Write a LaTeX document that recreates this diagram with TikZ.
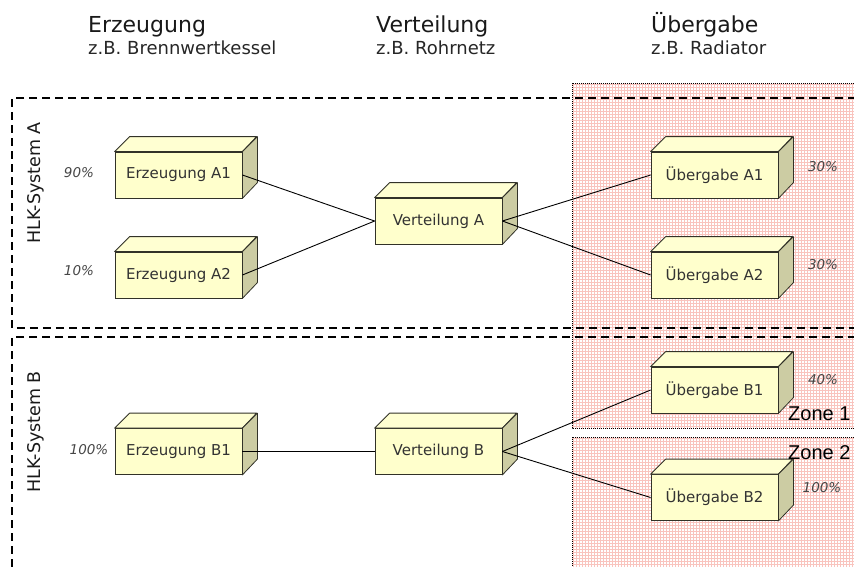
\documentclass[tikz,border=0pt]{standalone}
\usepackage{fontspec}
\setmainfont{DejaVu Sans}
\newfontfamily\zonefont{Liberation Sans}
\definecolor{boxfront}{RGB}{255,255,204}
\definecolor{boxtop}{RGB}{255,255,210}
\definecolor{boxside}{RGB}{204,204,163}
\definecolor{boxline}{RGB}{50,50,40}
\definecolor{gridpink}{RGB}{249,196,190}
\definecolor{pcgray}{RGB}{70,70,70}
\begin{document}
\begin{tikzpicture}[x=1pt,y=-1pt,
  front/.style={draw=boxline, line width=0.8pt, fill=boxfront,
    minimum width=127pt, minimum height=46pt, inner sep=0pt,
    font=\fontsize{15}{18}\selectfont, text=black!80},
  topface/.style={draw=boxline, line width=0.8pt, fill=boxtop, line join=round},
  sideface/.style={draw=boxline, line width=0.8pt, fill=boxside, line join=round},
  link/.style={draw=black, line width=0.9pt},
  systemframe/.style={draw=black, line width=1.4pt, dash pattern=on 8pt off 5pt},
  zoneframe/.style={draw=black, line width=1pt, dash pattern=on 1pt off 1pt},
  pct/.style={font=\fontsize{13.5}{16}\selectfont\itshape, text=pcgray},
  headtitle/.style={anchor=base west, font=\fontsize{22}{26}\selectfont, text=black!90, inner sep=0pt},
  headsub/.style={anchor=base west, font=\fontsize{18}{21}\selectfont, text=black!85, inner sep=0pt},
  syslabel/.style={rotate=90, font=\fontsize{17.5}{20}\selectfont, text=black!90},
  zonelabel/.style={anchor=base west, font=\zonefont\fontsize{20}{24}\selectfont, inner sep=0pt}
]
\useasboundingbox (0,0) rectangle (854,566);

% hatched delivery zones
\begin{scope}
  \clip (572,83) rectangle (854,428);
  \fill[white] (572,83) rectangle (854,428);
  \draw[gridpink, line width=0.45pt, step=3pt] (570,80) grid (856,430);
\end{scope}
\begin{scope}
  \clip (572,437) rectangle (854,566);
  \fill[white] (572,437) rectangle (854,566);
  \draw[gridpink, line width=0.45pt, step=3pt] (570,435) grid (856,568);
\end{scope}
\draw[zoneframe] (856,83) -- (572,83) -- (572,428) -- (856,428);
\draw[zoneframe] (856,437) -- (572,437) -- (572,570);

% system frames
\draw[systemframe] (856,98) -- (12,98) -- (12,328) -- (856,328);
\draw[systemframe] (856,337) -- (12,337) -- (12,570);

% column headings
\node[headtitle] (hE) at (88,32) {Erzeugung};
\node[headsub] (hEs) at (88,54) {z.B. Brennwertkessel};
\node[headtitle] (hV) at (376,32) {Verteilung};
\node[headsub] (hVs) at (376,54) {z.B. Rohrnetz};
\node[headtitle] (hU) at (651,32) {Übergabe};
\node[headsub] (hUs) at (651,54) {z.B. Radiator};

% system labels
\node[syslabel] (sysA) at (36,183) {HLK-System A};
\node[syslabel] (sysB) at (36,432) {HLK-System B};

% boxes (front faces)
\node[front] (ea1) at (178.5,175) {Erzeugung A1};
\node[front] (ea2) at (178.5,275) {Erzeugung A2};
\node[front] (eb1) at (178.5,451.5) {Erzeugung B1};
\node[front] (va)  at (438.5,221) {Verteilung A};
\node[front] (vb)  at (438.5,451.5) {Verteilung B};
\node[front] (ua1) at (714.5,175) {Übergabe A1};
\node[front] (ua2) at (714.5,275) {Übergabe A2};
\node[front] (ub1) at (714.5,390) {Übergabe B1};
\node[front] (ub2) at (714.5,497.5) {Übergabe B2};

% top and side faces of each box
\foreach \b in {ea1,ea2,eb1,va,vb,ua1,ua2,ub1,ub2}{
  \filldraw[topface] (\b.north west) -- ++(15,-15) -- ++(127,0) -- (\b.north east) -- cycle;
  \filldraw[sideface] (\b.north east) -- ++(15,-15) -- ++(0,46) -- (\b.south east) -- cycle;
}

% connections
\draw[link] (ea1.east) -- (va.west);
\draw[link] (ea2.east) -- (va.west);
\draw[link] (va.east) -- (ua1.west);
\draw[link] (va.east) -- (ua2.west);
\draw[link] (eb1.east) -- (vb.west);
\draw[link] (vb.east) -- (ub1.west);
\draw[link] (vb.east) -- (ub2.west);

% shares
\node[pct] (p1) at (79,173) {90\%};
\node[pct] (p2) at (79,271) {10\%};
\node[pct] (p3) at (89,450) {100\%};
\node[pct] (p4) at (823,167) {30\%};
\node[pct] (p5) at (823,265) {30\%};
\node[pct] (p6) at (823,380) {40\%};
\node[pct] (p7) at (822,488) {100\%};

% zone names
\node[zonelabel] (z1) at (788,420) {Zone 1};
\node[zonelabel] (z2) at (788,459) {Zone 2};
\end{tikzpicture}
\end{document}
